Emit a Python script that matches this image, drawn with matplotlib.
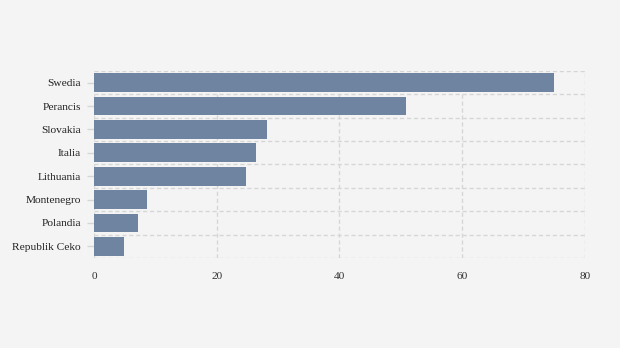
import matplotlib
matplotlib.use("Agg")
import matplotlib.pyplot as plt

countries = ["Swedia", "Perancis", "Slovakia", "Italia", "Lithuania",
             "Montenegro", "Polandia", "Republik Ceko"]
values = [75, 50.8, 28.2, 26.4, 24.8, 8.6, 7.2, 4.9]
x_ticks = [0, 20, 40, 60, 80]

plt.rcParams["font.family"] = ["Liberation Serif", "DejaVu Serif"]

fig = plt.figure(figsize=(6.2, 3.48), dpi=100, facecolor="#f4f4f4")
ax = fig.add_axes([0.1516, 0.2586, 0.7919, 0.5374])
ax.set_facecolor("#f4f4f4")

pos = list(range(len(countries)))[::-1]
ax.barh(pos, values, height=0.8, color="#6e84a0", zorder=2)

ax.set_xlim(0, 80)
ax.set_ylim(-0.5, len(countries) - 0.5)
ax.set_xticks(x_ticks)
ax.set_xticklabels([str(t) for t in x_ticks])
ax.set_yticks(pos)
ax.set_yticklabels(countries)
ax.set_yticks([p - 0.5 for p in range(len(countries) + 1)], minor=True)

grid_style = dict(color="#d6d6d6", linestyle=(0, (3, 2)), linewidth=1, zorder=0)
ax.grid(axis="x", which="major", **grid_style)
ax.grid(axis="y", which="minor", **grid_style)
ax.grid(axis="y", which="major", visible=False)

for s in ax.spines.values():
    s.set_visible(False)

ax.tick_params(axis="y", which="major", length=5, width=1, color="#d6d6d6",
               labelsize=8.2, labelcolor="#222222", pad=4.5)
ax.tick_params(axis="y", which="minor", length=0)
ax.tick_params(axis="x", length=0, labelsize=8.2, labelcolor="#333333", pad=10)

fig.savefig("out.png", dpi=100, facecolor=fig.get_facecolor())
